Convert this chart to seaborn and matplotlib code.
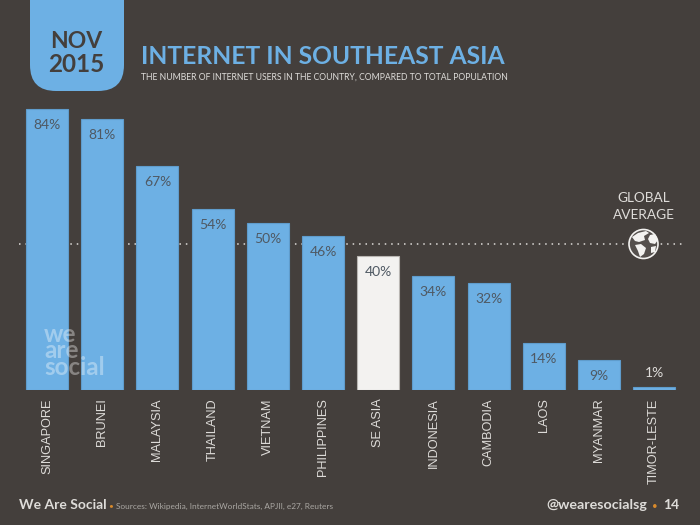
import matplotlib
matplotlib.use("Agg")
import matplotlib.pyplot as plt
import seaborn as sns
from matplotlib.patches import Circle, FancyBboxPatch, Polygon

countries = ["SINGAPORE", "BRUNEI", "MALAYSIA", "THAILAND", "VIETNAM", "PHILIPPINES",
             "SE ASIA", "INDONESIA", "CAMBODIA", "LAOS", "MYANMAR", "TIMOR-LESTE"]
penetration = [84, 81, 67, 54, 50, 46, 40, 34, 32, 14, 9, 1]
global_average = 43.6

BG = "#443f3c"
BLUE = "#6db0e4"
WHITE = "#f3f2f0"
LABEL = "#dedcd9"
DARK = "#4f5963"
ORANGE = "#d98a2b"

sns.set_theme(style="dark", rc={"axes.facecolor": BG, "figure.facecolor": BG})
plt.rcParams["font.family"] = ["Lato", "DejaVu Sans"]

fig = plt.figure(figsize=(7, 5.25), dpi=100)
ax = fig.add_axes([0, 135 / 525, 1, 390 / 525])

palette = {c: (WHITE if c == "SE ASIA" else BLUE) for c in countries}
sns.barplot(x=countries, y=penetration, hue=countries, palette=palette, legend=False,
            width=0.76, saturation=1, edgecolor="#5f9ccc", linewidth=0.8, ax=ax, zorder=3)
for bar in ax.patches:
    if bar.get_height() == 40:
        bar.set_edgecolor("#b9b6b2")

# pixel fit: first bar centre at 47, 55.2 px per category, 3.345 px per percent
ax.set_xlim(-47 / 55.2, (700 - 47) / 55.2)
ax.set_ylim(0, 390 / 3.345)
ax.hlines(global_average, -0.5, 11.5, colors=LABEL, linestyles=(0, (1, 3.2)), linewidth=1.1, zorder=1)

ax.set_xticks(range(len(countries)))
ax.set_xticklabels(countries, rotation=90, fontsize=9.2, color=LABEL, family="Liberation Sans")
ax.tick_params(axis="x", length=0, pad=6)
ax.set_yticks([])
ax.set_xlabel("")
ax.set_ylabel("")
sns.despine(ax=ax, left=True, bottom=True)

for i, v in enumerate(penetration):
    if v < 5:
        ax.annotate(f"{v}%", (i, v), xytext=(0, 10), textcoords="offset points", ha="center",
                    va="center", color=LABEL, fontsize=10)
    else:
        ax.annotate(f"{v}%", (i, v), xytext=(0, -11.5), textcoords="offset points", ha="center",
                    va="center", color=DARK, fontsize=10)

# everything else sits on an overlay in image pixels
ov = fig.add_axes([0, 0, 1, 1], zorder=5)
ov.set_xlim(0, 700)
ov.set_ylim(525, 0)
ov.axis("off")
ov.patch.set_alpha(0)

ov.add_patch(FancyBboxPatch((30, -40), 94, 131, boxstyle="round,pad=0,rounding_size=26",
                            fc=BLUE, ec="none", clip_on=True))
ov.text(76.5, 42, "NOV", ha="center", va="center", fontsize=16.5, fontweight="bold", color=BG)
ov.text(76.5, 65, "2015", ha="center", va="center", fontsize=17.5, fontweight="bold", color=BG)
ov.text(141, 56.5, "INTERNET IN SOUTHEAST ASIA", ha="left", va="center", fontsize=17.7,
        fontweight="bold", color=BLUE)
ov.text(141, 77, "THE NUMBER OF INTERNET USERS IN THE COUNTRY, COMPARED TO TOTAL POPULATION",
        ha="left", va="center", fontsize=6.25, color=LABEL)

# watermark
ov.text(44, 351, "we\nare\nsocial", ha="left", va="center", fontsize=17.5, fontweight="bold",
        color="white", alpha=0.36, linespacing=0.68)

# global average marker
ov.text(644, 198, "GLOBAL", ha="center", va="center", fontsize=9.8, color=LABEL)
ov.text(644, 215, "AVERAGE", ha="center", va="center", fontsize=9.8, color=LABEL)
ov.add_patch(Circle((643.5, 244), 15.5, fc=BG, ec="none", zorder=2))
ov.add_patch(Circle((643.5, 244), 14.5, fc="#55504d", ec=WHITE, lw=1.2, zorder=3))
for pts in [[(632, 237), (638, 233), (646, 231), (649, 233), (644, 236), (645, 240), (639, 242), (635, 241)],
            [(635, 245), (641, 244), (646, 248), (644, 254), (640, 257), (638, 251)],
            [(650, 235), (655, 234), (658, 240), (655, 244), (650, 243), (648, 239)],
            [(651, 247), (656, 246), (655, 252), (651, 253)]]:
    ov.add_patch(Polygon(pts, closed=True, fc=WHITE, ec="none", zorder=4))

# footer
ov.text(19, 505, "We Are Social", ha="left", va="center", fontsize=10, fontweight="bold", color=LABEL)
ov.text(110.5, 506, "•", ha="center", va="center", fontsize=6, color=ORANGE)
ov.text(116, 506, "Sources: Wikipedia, InternetWorldStats, APJII, e27, Reuters", ha="left",
        va="center", fontsize=5.95, color="#aaa7a3")
ov.text(647, 505, "@wearesocialsg", ha="right", va="center", fontsize=10.3, fontweight="bold", color=LABEL)
ov.text(655, 506, "•", ha="center", va="center", fontsize=7, color=ORANGE)
ov.text(679, 505, "14", ha="right", va="center", fontsize=10, fontweight="bold", color=LABEL)

fig.savefig("out.png", dpi=100, facecolor=BG)
